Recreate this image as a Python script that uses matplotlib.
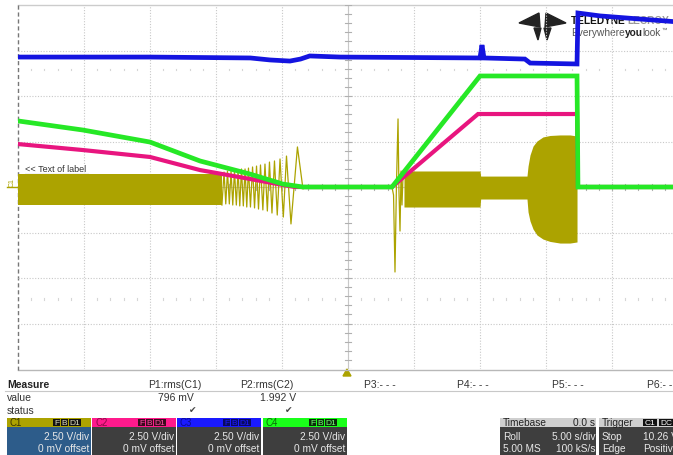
import numpy as np
import matplotlib.pyplot as plt
from matplotlib.patches import Rectangle, Polygon

plt.rcParams['font.family'] = ['Liberation Sans', 'DejaVu Sans']

# scope settings
T_DIV = 5.0   # s/div
V_DIV = 2.5   # V/div

YEL = '#aca300'
MAG = '#e8157f'
GRN = '#26e826'
BLU = '#1414e0'

# C3 (blue) supply rail
c3_t = [0, 10, 17.6, 19.1, 20.6, 21.4, 22.1, 24.4, 35.0, 35.15, 35.3, 38.4, 38.8, 42.35, 42.42, 44.1, 47.1, 50]
c3_v = [7.14, 7.14, 7.09, 6.98, 6.92, 7.03, 7.2, 7.14, 7.09, 7.8, 7.09, 7.03, 6.81, 6.76, 9.56, 9.4, 9.23, 9.07]

# C4 (green)
c4_t = [0, 4.92, 10.0, 13.79, 17.58, 20.08, 21.59, 28.33, 35.0, 42.35, 42.42, 50]
c4_v = [3.63, 3.13, 2.47, 1.43, 0.71, 0.16, 0, 0, 6.10, 6.10, 0, 0]

# C2 (magenta)
c2_t = [0, 4.92, 10.0, 13.79, 17.58, 20.08, 20.98, 28.33, 34.85, 42.35, 42.42, 50]
c2_v = [2.36, 2.03, 1.65, 0.93, 0.44, 0.11, 0, 0, 4.01, 4.01, 0, 0]

# C1 (yellow) switching node: dense envelope before ramp-down
c1_a_t = [0, 15.45]
c1_a_hi = [0.71, 0.71]
c1_a_lo = [-0.99, -0.99]

# C1 ring-down as the frequency drops
chirp_peak_t = [15.61, 15.87, 16.14, 16.40, 16.67, 16.93, 17.20, 17.46, 17.77, 18.07,
                18.37, 18.71, 19.05, 19.43, 19.85, 20.34, 21.17]
chirp_peak_v = [0.82, 0.88, 0.88, 0.93, 0.93, 0.99, 0.99, 1.04, 1.10, 1.15,
                1.21, 1.26, 1.37, 1.43, 1.54, 1.70, 2.20]
chirp_trough_t = [15.74, 16.01, 16.27, 16.54, 16.80, 17.07, 17.33, 17.61, 17.92, 18.22,
                  18.55, 18.89, 19.24, 19.64, 20.10, 20.68]
chirp_trough_v = [-0.93, -0.93, -0.99, -0.99, -1.04, -1.04, -1.10, -1.10, -1.15, -1.21,
                  -1.26, -1.32, -1.43, -1.54, -1.65, -2.03]
chirp_end_t = [21.59, 21.74]
chirp_end_v = [-0.11, 0]

# C1 start-up transient
spike_t = [28.33, 28.45, 28.56, 28.67, 28.79, 28.86, 28.94, 29.02, 29.09, 29.17]
spike_v = [0, -0.44, -4.67, 0.11, 3.74, -0.22, -2.42, 0.88, -0.99, 0.66]

# C1 envelope after start-up, including the burst before shutdown
c1_b_t = [29.24, 35.0, 35.05, 38.56, 38.64, 38.79, 39.02, 39.32, 39.77, 40.30, 41.06, 41.82, 42.35]
c1_b_hi = [0.88, 0.88, 0.60, 0.60, 1.15, 1.76, 2.25, 2.53, 2.75, 2.83, 2.86, 2.86, 2.80]
c1_b_lo = [-1.10, -1.10, -0.66, -0.66, -1.37, -1.87, -2.31, -2.64, -2.86, -2.99, -3.08, -3.08, -3.02]

# measurement panel
meas_names = ['P1:rms(C1)', 'P2:rms(C2)', 'P3:- - -', 'P4:- - -', 'P5:- - -', 'P6:- -']
meas_x = [175, 267, 380, 473, 568, 660]
meas_values = ['796 mV', '1.992 V']
meas_value_x = [194, 296]

channels = ['C1', 'C2', 'C3', 'C4']
ch_x = [7, 92, 177, 263]
ch_head = [YEL, '#ff1a8c', '#1a1aff', '#1aff1a']
ch_head_text = ['#3a3500', '#8a0a45', '#0a0a90', '#0a6a0a']
ch_badge_fc = ['#111111', '#3a0a1c', '#0a0a60', '#0a2a0a']
ch_badge_tc = ['#e0e0c0', '#ff4da6', '#1a1aff', '#7aff7a']
ch_body = ['#2d5c8a', '#3e3e3e', '#3e3e3e', '#3e3e3e']
ch_scale = ['2.50 V/div'] * 4
ch_offset = ['0 mV offset'] * 4

fig = plt.figure(figsize=(6.73, 4.56), dpi=100)
fig.patch.set_facecolor('white')
renderer = fig.canvas.get_renderer()

# overlay in pixel units for the frame, logo and panels
ov = fig.add_axes([0, 0, 1, 1])
ov.set_xlim(0, 673)
ov.set_ylim(456, 0)
ov.axis('off')

ax = fig.add_axes([18 / 673, 86 / 456, 660 / 673, 364 / 456])
ax.set_zorder(2)
ax.patch.set_alpha(0)
ax.set_xlim(0, 10 * T_DIV)
ax.set_ylim(-4 * V_DIV, 4 * V_DIV)
ax.axis('off')

# graticule
for k in range(1, 10):
    ax.axvline(k * T_DIV, color='#c8c8c8', lw=0.8, ls=(0, (1, 1.5)), zorder=0)
for k in range(-3, 4):
    ax.axhline(k * V_DIV, color='#c8c8c8', lw=0.8, ls=(0, (1, 1.5)), zorder=0)
ax.axvline(5 * T_DIV, color='#c8c8c8', lw=0.8, zorder=0)
ax.axhline(0, color='#c8c8c8', lw=0.8, zorder=0)
for v in np.arange(-10, 10.01, 0.5):
    ax.plot([24.8, 25.2], [v, v], color='#b0b0b0', lw=0.8, zorder=0)
for t in np.arange(0, 50.01, 1.0):
    ax.plot([t, t], [-0.15, 0.15], color='#b0b0b0', lw=0.8, zorder=0)
    if t % T_DIV:
        for lvl in (6.45, -6.15):
            ax.plot([t, t], [lvl - 0.04, lvl + 0.04], color='#d6d6d6', lw=0.8, zorder=0)

ov.plot([18, 673], [6, 6], color='#cccccc', lw=1)
ov.plot([18, 673], [371, 371], color='#b8b8b8', lw=1)
ov.plot([18, 18], [6, 371], color='#777777', lw=1, ls=(0, (3, 2)))


def text_run(x, y, parts, size):
    # consecutive text pieces with their own weight and colour
    for s, weight, color in parts:
        t = ov.text(x, y, s, fontsize=size, fontweight=weight, color=color, va='center')
        x += t.get_window_extent(renderer=renderer).width
    return x


# logo
for tri in ([(519, 24), (539, 14), (540, 28)],
            [(566, 24), (546, 14), (545, 28)],
            [(534, 29), (541, 29), (538, 41)],
            [(544, 29), (551, 29), (547, 41)]):
    ov.add_patch(Polygon(tri, closed=True, color='#222222'))
text_run(571, 21, [('TELEDYNE ', 'bold', '#111111'), ('LECROY', 'bold', '#9a9a9a')], 7.3)
x_end = text_run(571, 33, [('Everywhere', 'normal', '#555555'), ('you', 'bold', '#222222'),
                           ('look', 'normal', '#555555')], 7.3)
ov.text(x_end, 30, '\u2122', fontsize=4, color='#555555', va='center')

# channel label and text label
ov.text(12, 183, 'C1', fontsize=5, color=YEL, rotation=90, ha='center', va='center')
ov.plot([7, 17], [188, 188], color=YEL, lw=1)
ov.text(25, 170, '<< Text of label', fontsize=6.5, color='#333333', va='center')
ov.plot([25, 88], [175, 175], color='#333333', lw=0.8)

# traces
ax.fill_between(c1_a_t, c1_a_lo, c1_a_hi, color=YEL, lw=0, zorder=3)
chirp_t = np.empty(len(chirp_peak_t) + len(chirp_trough_t))
chirp_v = np.empty_like(chirp_t)
chirp_t[0::2] = chirp_peak_t
chirp_t[1::2] = chirp_trough_t
chirp_v[0::2] = chirp_peak_v
chirp_v[1::2] = chirp_trough_v
ring_t = np.concatenate([[c1_a_t[-1]], chirp_t, chirp_end_t])
ring_v = np.concatenate([[c1_a_lo[-1]], chirp_v, chirp_end_v])
ax.plot(ring_t, ring_v, color=YEL, lw=0.9, zorder=3)
ax.plot([chirp_end_t[-1], spike_t[0]], [0, 0], color=YEL, lw=1.2, zorder=3)
ax.plot(spike_t, spike_v, color=YEL, lw=0.9, zorder=3)
ax.fill_between(c1_b_t, c1_b_lo, c1_b_hi, color=YEL, lw=0, zorder=3)
ax.plot([c1_b_t[-1], 50], [0, 0], color=YEL, lw=1.2, zorder=3)

ax.plot(c2_t, c2_v, color=MAG, lw=3.0, zorder=4, solid_joinstyle='miter')
ax.plot(c4_t, c4_v, color=GRN, lw=3.4, zorder=5, solid_joinstyle='miter')
ax.plot(c3_t, c3_v, color=BLU, lw=3.4, zorder=6, solid_joinstyle='miter')

# trigger marker
ov.add_patch(Polygon([(343, 377), (351, 377), (347, 370)], closed=True, color=YEL))

# measurement table
ov.text(7, 385, 'Measure', fontsize=7.5, fontweight='bold', color='#222222', va='center')
for name, x in zip(meas_names, meas_x):
    ov.text(x, 385, name, fontsize=7.5, color='#333333', ha='center', va='center')
ov.plot([5, 673], [392, 392], color='#c8c8c8', lw=0.8)
ov.text(7, 398, 'value', fontsize=7.5, color='#333333', va='center')
for val, x in zip(meas_values, meas_value_x):
    ov.text(x, 398, val, fontsize=7.5, color='#333333', ha='right', va='center')
ov.text(7, 411, 'status', fontsize=7.5, color='#333333', va='center')
for x in [193, 289]:
    ov.text(x, 411, '\u2714', fontsize=6.5, color='#444444', ha='center', va='center',
            family='DejaVu Sans')


def badge(x, y, w, text, fc, tc):
    ov.add_patch(Rectangle((x, y), w, 7.5, facecolor=fc, edgecolor='none'))
    ov.text(x + w / 2, y + 4, text, fontsize=6, color=tc, ha='center', va='center')


# channel descriptors
for i, ch in enumerate(channels):
    x0 = ch_x[i]
    ov.add_patch(Rectangle((x0, 419), 84, 9, facecolor=ch_head[i], edgecolor='none'))
    ov.add_patch(Rectangle((x0, 428), 84, 28, facecolor=ch_body[i], edgecolor='none'))
    ov.text(x0 + 3, 423.5, ch, fontsize=7, color=ch_head_text[i], va='center')
    badge(x0 + 46, 420, 7, 'F', ch_badge_fc[i], ch_badge_tc[i])
    badge(x0 + 54, 420, 7, 'B', ch_badge_fc[i], ch_badge_tc[i])
    badge(x0 + 62, 420, 12, 'D1', ch_badge_fc[i], ch_badge_tc[i])
    ov.text(x0 + 82, 437, ch_scale[i], fontsize=7.3, color='#e8e8e8', ha='right', va='center')
    ov.text(x0 + 82, 449, ch_offset[i], fontsize=7.3, color='#e8e8e8', ha='right', va='center')

# timebase and trigger descriptors
ov.add_patch(Rectangle((500, 419), 96, 9, facecolor='#cfcfcf', edgecolor='none'))
ov.add_patch(Rectangle((500, 428), 96, 28, facecolor='#3e3e3e', edgecolor='none'))
ov.text(503, 423.5, 'Timebase', fontsize=7.3, color='#222222', va='center')
ov.text(595, 423.5, '0.0 s', fontsize=7.3, color='#222222', ha='right', va='center')
ov.text(503, 437, 'Roll', fontsize=7.3, color='#e8e8e8', va='center')
ov.text(595, 437, '5.00 s/div', fontsize=7.3, color='#e8e8e8', ha='right', va='center')
ov.text(503, 449, '5.00 MS', fontsize=7.3, color='#e8e8e8', va='center')
ov.text(595, 449, '100 kS/s', fontsize=7.3, color='#e8e8e8', ha='right', va='center')

ov.add_patch(Rectangle((599, 419), 80, 9, facecolor='#cfcfcf', edgecolor='none'))
ov.add_patch(Rectangle((599, 428), 80, 28, facecolor='#3e3e3e', edgecolor='none'))
ov.text(602, 423.5, 'Trigger', fontsize=7.3, color='#222222', va='center')
badge(643, 420, 14, 'C1', '#111111', '#ffffff')
badge(659, 420, 14, 'DC', '#111111', '#ffffff')
ov.text(602, 437, 'Stop', fontsize=7.3, color='#e8e8e8', va='center')
ov.text(643, 437, '10.26 V', fontsize=7.3, color='#e8e8e8', va='center')
ov.text(602, 449, 'Edge', fontsize=7.3, color='#e8e8e8', va='center')
ov.text(643, 449, 'Positive', fontsize=7.3, color='#e8e8e8', va='center')

fig.savefig('out.png', dpi=100)
